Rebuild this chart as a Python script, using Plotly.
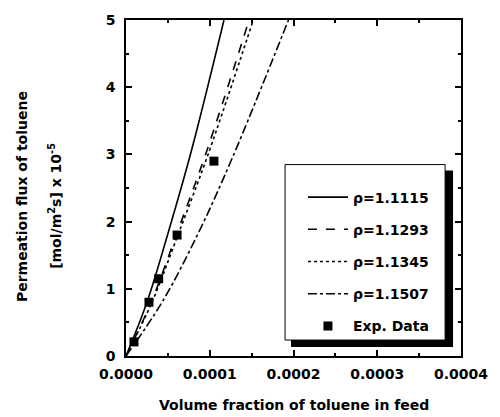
import plotly.graph_objects as go

# Model curves (x = volume fraction, y = flux x 1e-5)
x_1115 = [0, 0.25e-4, 0.50e-4, 0.78e-4, 1.17e-4]
y_1115 = [0, 0.8, 1.82, 3.05, 5.0]
x_1293 = [0, 0.30e-4, 0.60e-4, 0.95e-4, 1.47e-4]
y_1293 = [0, 0.8, 1.8, 3.0, 5.0]
x_1345 = [0, 0.31e-4, 0.62e-4, 0.98e-4, 1.52e-4]
y_1345 = [0, 0.8, 1.8, 3.0, 5.0]
x_1507 = [0, 0.43e-4, 0.86e-4, 1.27e-4, 1.94e-4]
y_1507 = [0, 0.8, 1.82, 2.95, 5.0]
# Experimental data
x_exp = [0.095e-4, 0.274e-4, 0.39e-4, 0.61e-4, 1.05e-4]
y_exp = [0.21, 0.80, 1.15, 1.80, 2.90]

labels = ["ρ=1.1115", "ρ=1.1293", "ρ=1.1345", "ρ=1.1507", "Exp. Data"]

FONT = "DejaVu Sans"
fig = go.Figure()
styles = [("solid", x_1115, y_1115), ("dash", x_1293, y_1293),
          ("dot", x_1345, y_1345), ("dashdot", x_1507, y_1507)]
for i, (dash, xs, ys) in enumerate(styles):
    fig.add_trace(go.Scatter(x=xs, y=ys, mode="lines", name=labels[i],
                             legendgroup=str(i),
                             line=dict(color="black", width=1.6, dash=dash, shape="spline")))
fig.add_trace(go.Scatter(x=x_exp, y=y_exp, mode="markers", name=labels[4], legendgroup="4",
                         marker=dict(symbol="square", size=9, color="black")))

L, T, W, H = 126, 19, 337, 337
def px(x): return (x - L) / W
def py(y): return (T + H - y) / H

fig.update_layout(
    width=500, height=417,
    margin=dict(l=L, r=500 - L - W, t=T, b=417 - T - H),
    paper_bgcolor="white", plot_bgcolor="white",
    font=dict(family=FONT, size=14, color="black"),
    showlegend=True,
    legend=dict(x=px(304), y=py(181), xanchor="left", yanchor="top",
                bgcolor="rgba(0,0,0,0)", borderwidth=0,
                font=dict(family=FONT, size=14, color="black", weight="bold"),
                tracegroupgap=11, itemwidth=40),
    xaxis=dict(range=[0, 0.0004], dtick=0.0001, tickformat=".4f",
               showline=True, linecolor="black", linewidth=1.5, mirror="allticks",
               ticks="inside", ticklen=6, tickwidth=1.5, tickcolor="black",
               minor=dict(ticks="inside", ticklen=3, dtick=0.00005, tickcolor="black", tickwidth=1.5),
               showgrid=False, zeroline=False, ticklabelstandoff=4,
               tickfont=dict(family=FONT, size=14, weight="bold")),
    yaxis=dict(range=[0, 5], dtick=1,
               showline=True, linecolor="black", linewidth=1.5, mirror="allticks",
               ticks="inside", ticklen=6, tickwidth=1.5, tickcolor="black",
               minor=dict(ticks="inside", ticklen=3, dtick=0.5, tickcolor="black", tickwidth=1.5),
               showgrid=False, zeroline=False, ticklabelstandoff=6,
               tickfont=dict(family=FONT, size=14, weight="bold")),
    shapes=[
        dict(type="rect", xref="paper", yref="paper", x0=px(292), x1=px(455), y0=py(347), y1=py(170),
             fillcolor="black", line=dict(width=0), layer="above"),
        dict(type="rect", xref="paper", yref="paper", x0=px(286), x1=px(447), y0=py(340), y1=py(164),
             fillcolor="white", line=dict(color="black", width=1), layer="above"),
    ],
    annotations=[
        dict(text="<b>Permeation flux of toluene</b>", xref="paper", yref="paper",
             x=px(22), y=py(196), textangle=-90, showarrow=False,
             xanchor="center", yanchor="middle", font=dict(family=FONT, size=14)),
        dict(text="<b>[mol/m<sup>2</sup>s] x 10<sup>-5</sup></b>", xref="paper", yref="paper",
             x=px(55), y=py(205), textangle=-90, showarrow=False,
             xanchor="center", yanchor="middle", font=dict(family=FONT, size=14)),
        dict(text="<b>Volume fraction of toluene in feed</b>", xref="paper", yref="paper",
             x=px(295), y=py(405), showarrow=False,
             xanchor="center", yanchor="middle", font=dict(family=FONT, size=14)),
    ],
)
fig.write_html("out.html", config={"displayModeBar": False},
               post_script="document.body.style.margin='0';document.body.style.overflow='hidden';")
